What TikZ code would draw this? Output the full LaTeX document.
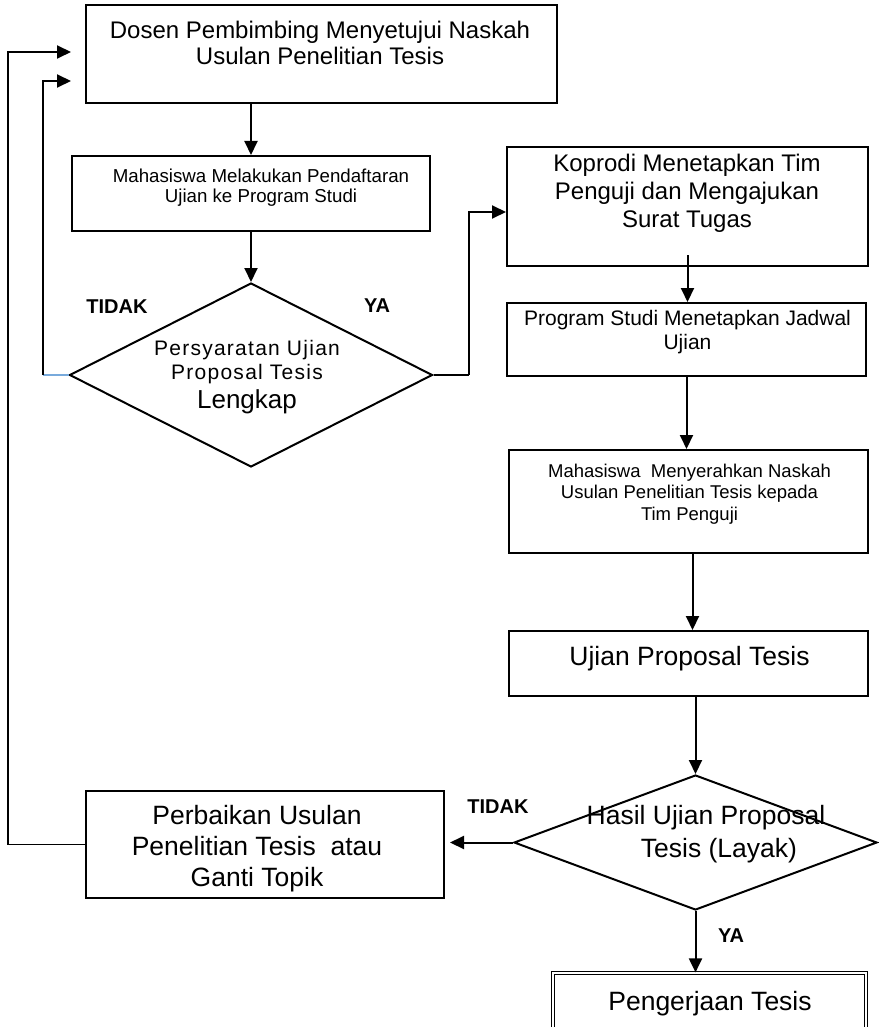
\documentclass[tikz,border=0pt]{standalone}
\usepackage{fontspec}
\setmainfont{Liberation Sans}
\usetikzlibrary{shapes.geometric,arrows.meta,calc}
\begin{document}
\begin{tikzpicture}[x=1pt,y=-1pt,
  box/.style={draw, line width=2pt, rectangle, inner sep=0pt},
  dia/.style={draw, line width=2pt, diamond, inner sep=0pt},
  txt/.style={align=center, inner sep=0pt},
  conn/.style={line width=1.5pt},
  arr/.style={line width=2pt, -{Triangle[length=14pt,width=13pt]}},
  lbl/.style={inner sep=0pt, font=\bfseries\fontsize{20}{22}\selectfont}]
\useasboundingbox (0,0) rectangle (878,1027);

% boxes
\node[box, minimum width=471pt, minimum height=98pt] (b1) at (321.5,54) {};
\node[txt, font=\fontsize{24}{26}\selectfont] (t1) at (320,43) {Dosen Pembimbing Menyetujui Naskah\\Usulan Penelitian Tesis};

\node[box, minimum width=358pt, minimum height=75pt] (b2) at (251,193.5) {};
\node[txt, font=\fontsize{18.7}{20}\selectfont] (t2) at (261,188) {Mahasiswa Melakukan Pendaftaran\\Ujian ke Program Studi};

\node[dia, minimum width=363pt, minimum height=184pt] (d1) at (251,375) {};
\node[txt, font=\fontsize{21}{24}\selectfont\addfontfeature{LetterSpace=6}] (dt1) at (247,362) {Persyaratan Ujian\\Proposal Tesis};
\node[txt, font=\fontsize{26}{28}\selectfont] (dt2) at (247,402) {Lengkap};

\node[box, minimum width=361pt, minimum height=119pt] (b3) at (687.5,206.5) {};
\node[txt, font=\fontsize{24}{28}\selectfont] (t3) at (687,193) {Koprodi Menetapkan Tim\\Penguji dan Mengajukan\\Surat Tugas};

\node[box, minimum width=359pt, minimum height=73pt] (b4) at (686.5,339.5) {};
\node[txt, font=\fontsize{21}{24}\selectfont] (t4) at (687.5,332) {Program Studi Menetapkan Jadwal\\Ujian};

\node[box, minimum width=359pt, minimum height=103pt] (b5) at (688.5,501.5) {};
\node[txt, font=\fontsize{18.5}{21.5}\selectfont] (t5) at (689.5,494) {Mahasiswa~ Menyerahkan Naskah\\Usulan Penelitian Tesis kepada\\Tim Penguji};

\node[box, minimum width=359pt, minimum height=65pt] (b6) at (688.5,663.5) {};
\node[txt, font=\fontsize{26.5}{30}\selectfont] (t6) at (689.5,659) {Ujian Proposal Tesis};

\node[dia, minimum width=363pt, minimum height=135pt] (d2) at (695.5,842.5) {};
\node[txt, font=\fontsize{26.5}{30}\selectfont] (dt3) at (706,818) {Hasil Ujian Proposal};
\node[txt, font=\fontsize{26.5}{30}\selectfont] (dt4) at (719,851) {Tesis (Layak)};

\node[box, minimum width=358pt, minimum height=107pt] (p) at (265,844.5) {};
\node[txt, font=\fontsize{26.5}{31}\selectfont] (tp) at (257,849) {Perbaikan Usulan\\Penelitian Tesis~ atau\\Ganti Topik};

\node[draw, double, double distance=2pt, line width=1.2pt, rectangle, inner sep=0pt,
      minimum width=313pt, minimum height=80pt] (b7) at (709.5,1013) {};
\node[txt, font=\fontsize{26.5}{30}\selectfont] (t7) at (710,1004) {Pengerjaan Tesis};

% labels
\node[lbl] (l1) at (117,307) {TIDAK};
\node[lbl] (l2) at (377,306) {YA};
\node[lbl] (l3) at (498,807) {TIDAK};
\node[lbl] (l4) at (731,936) {YA};

% connectors
\draw[arr] (b1.south -| b2.north) -- (b2.north);
\draw[arr] (b2.south) -- (d1.north);

\coordinate (c1) at (43,375);
\draw[line width=1.2pt, color={rgb,255:red,120;green,170;blue,220}] (d1.west) -- (c1);
\draw[arr, shorten >=14pt] (c1) |- ($(b1.west)+(0,27)$);

\coordinate (c2) at (8,844.5);
\draw[conn] (p.west) -- (c2);
\draw[arr, shorten >=14pt] (c2) |- ($(b1.west)+(0,-2)$);

\coordinate (c3) at (469,375);
\draw[conn] (d1.east) -- (c3);
\draw[arr] (c3) |- ($(b3.west)+(0,5.5)$);

\draw[arr] ($(b3.south)+(0,-12)$) -- (b3.south |- b4.north);
\draw[arr] (b4.south) -- (b4.south |- b5.north);
\draw[arr] ($(b5.south)+(4,0)$) -- ($(b6.north)+(4,0)$);
\draw[arr] (b6.south -| d2.north) -- (d2.north);
\draw[arr, shorten >=5pt] (d2.west) -- (d2.west -| p.east);
\draw[arr] (d2.south) -- (d2.south |- b7.north);
\end{tikzpicture}
\end{document}
